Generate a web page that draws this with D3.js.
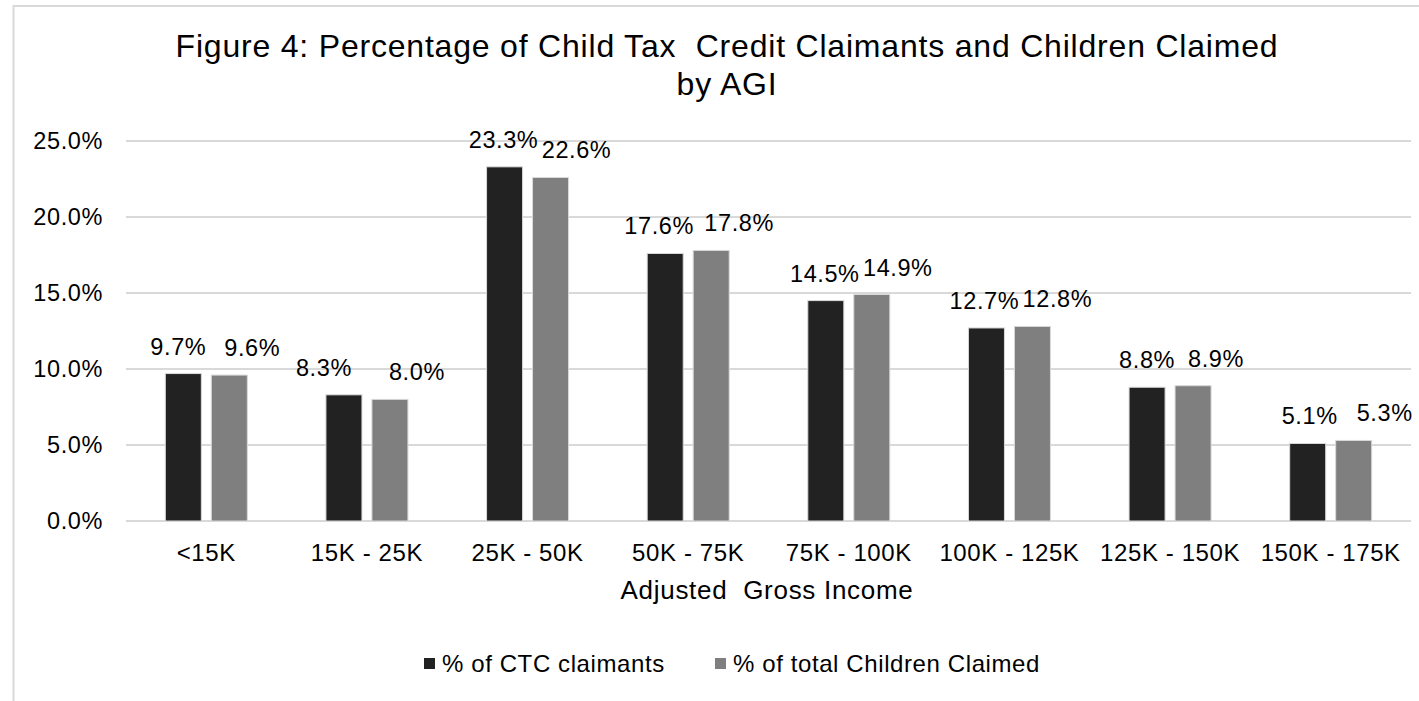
<!DOCTYPE html>
<html>
<head>
<meta charset="utf-8">
<script src="https://cdn.jsdelivr.net/npm/d3@7/dist/d3.min.js"></script>
<style>
  html, body { margin: 0; padding: 0; background: #fff; }
  svg { display: block; }
  text { font-family: "Liberation Sans", Arial, sans-serif; fill: #000; white-space: pre; }
</style>
</head>
<body>
<svg id="chart" width="1419" height="701"></svg>
<script>
// AGI brackets and the share of claimants / children in each
const categories = ["<15K", "15K - 25K", "25K - 50K", "50K - 75K", "75K - 100K", "100K - 125K", "125K - 150K", "150K - 175K"];
const ctcClaimants = [9.7, 8.3, 23.3, 17.6, 14.5, 12.7, 8.8, 5.1];
const childrenClaimed = [9.6, 8.0, 22.6, 17.8, 14.9, 12.8, 8.9, 5.3];
const seriesNames = ["% of CTC claimants", "% of total Children Claimed"];
const yTicks = [0, 5, 10, 15, 20, 25];
const titleLines = ["Figure 4: Percentage of Child Tax  Credit Claimants and Children Claimed", "by AGI"];
const axisTitle = "Adjusted  Gross Income";

// horizontal nudges for the value labels (px), one per bar
const ctcLabelDx = [-5, -20, -1, -6, -1, -2, 0, 2];
const childLabelDx = [23, 27, 26, 28, 26, 25, 23, 31];

const colors = ["#222222", "#7f7f7f"];
const svg = d3.select("#chart");

// outer chart frame (runs off the right and bottom edges)
svg.append("rect")
  .attr("x", 13.5).attr("y", 6)
  .attr("width", 1500).attr("height", 800)
  .attr("fill", "none").attr("stroke", "#d9d9d9").attr("stroke-width", 2);

const plot = { left: 126, right: 1411, top: 141, bottom: 521 };

const x0 = d3.scaleBand().domain(categories).range([plot.left, plot.right]);
const groupW = 82;
const x1 = d3.scaleBand().domain([0, 1]).range([0, groupW]).paddingInner(0.217);
const y = d3.scaleLinear().domain([0, 25]).range([plot.bottom, plot.top]);

// gridlines
svg.append("g").selectAll("line").data(yTicks).join("line")
  .attr("x1", plot.left).attr("x2", plot.right)
  .attr("y1", d => y(d)).attr("y2", d => y(d))
  .attr("stroke", "#d9d9d9").attr("stroke-width", 2);

// y axis labels
svg.append("g").selectAll("text").data(yTicks).join("text")
  .attr("x", 103).attr("y", d => y(d))
  .attr("text-anchor", "end").attr("dominant-baseline", "central")
  .attr("font-size", 23.5).attr("letter-spacing", 0.6)
  .text(d => d.toFixed(1) + "%");

const series = [ctcClaimants, childrenClaimed];
const labelDx = [ctcLabelDx, childLabelDx];
const groupOffset = (x0.bandwidth() - groupW) / 2;

series.forEach((vals, s) => {
  const g = svg.append("g");
  g.selectAll("rect").data(vals).join("rect")
    .attr("x", (d, i) => x0(categories[i]) + groupOffset + x1(s))
    .attr("y", d => y(d))
    .attr("width", x1.bandwidth())
    .attr("height", d => y(0) - y(d))
    .attr("fill", colors[s])
    .attr("stroke", "#d9d9d9").attr("stroke-width", 1);

  g.selectAll("text").data(vals).join("text")
    .attr("x", (d, i) => x0(categories[i]) + groupOffset + x1(s) + x1.bandwidth() / 2 + labelDx[s][i])
    .attr("y", d => y(d) - 19)
    .attr("text-anchor", "middle")
    .attr("font-size", 23.5).attr("letter-spacing", 0.6)
    .text(d => d.toFixed(1) + "%");
});

// category labels
svg.append("g").selectAll("text").data(categories).join("text")
  .attr("x", d => x0(d) + x0.bandwidth() / 2)
  .attr("y", 561)
  .attr("text-anchor", "middle")
  .attr("font-size", 24).attr("letter-spacing", 0.6)
  .text(d => d);

// axis title
svg.append("text")
  .attr("x", 767).attr("y", 599)
  .attr("text-anchor", "middle")
  .attr("font-size", 26).attr("letter-spacing", 0.7)
  .text(axisTitle);

// chart title
svg.append("g").selectAll("text").data(titleLines).join("text")
  .attr("x", 727).attr("y", (d, i) => 57 + i * 38)
  .attr("text-anchor", "middle")
  .attr("font-size", 32).attr("letter-spacing", 0.8)
  .text(d => d);

// legend
const legend = svg.append("g");
const legendX = [424, 715];
seriesNames.forEach((name, s) => {
  legend.append("rect")
    .attr("x", legendX[s]).attr("y", 658)
    .attr("width", 11).attr("height", 11)
    .attr("fill", colors[s]);
  legend.append("text")
    .attr("x", legendX[s] + 18).attr("y", 672)
    .attr("font-size", 24).attr("letter-spacing", 0.6)
    .text(name);
});
</script>
</body>
</html>
